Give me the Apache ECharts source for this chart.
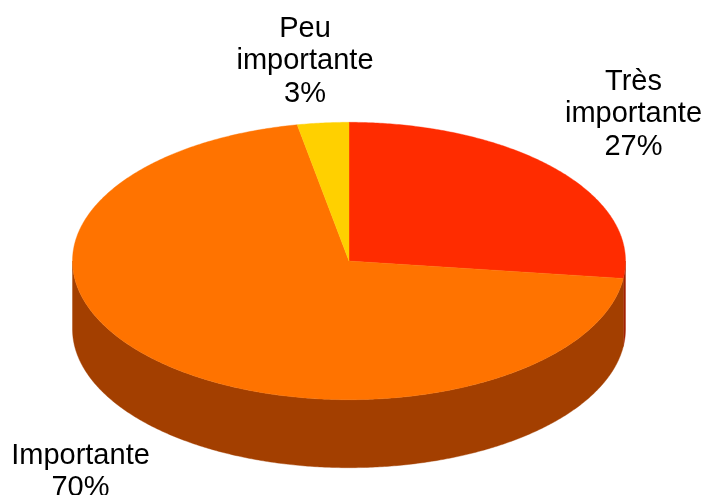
<!DOCTYPE html>
<html>
<head>
<meta charset="utf-8">
<style>html,body{margin:0;padding:0;background:#fff}#c{width:706px;height:495px}</style>
<script src="https://cdn.jsdelivr.net/npm/echarts@6/dist/echarts.min.js"></script>
</head>
<body>
<div id="c"></div>
<script>
var categories = ['Très\nimportante', 'Importante', 'Peu\nimportante'];
var shares = [27, 70, 3];
var topColors = ['#FF2C00', '#FF7300', '#FFD000'];
var sideColors = ['#A32000', '#A33F00', '#A38500'];

var CX = 349, CY = 261, RX = 276.5, RY = 138.7, DEPTH = 68;
var labelCenters = [[633.5, 114], [80.5, 472], [305, 61]];
var FONT = '29px "Liberation Sans", Arial, Helvetica, sans-serif';

var total = shares.reduce(function (a, b) { return a + b; }, 0);
function sliceRange(i) {
  var before = 0;
  for (var k = 0; k < i; k++) before += shares[k];
  return [before / total * 360, (before + shares[i]) / total * 360];
}
function rim(deg, dy) {
  var t = deg * Math.PI / 180;
  return [CX + RX * Math.sin(t), CY - RY * Math.cos(t) + (dy || 0)];
}
function arc(a, b, dy) {
  var pts = [], n = Math.max(2, Math.ceil(Math.abs(b - a) * 2));
  for (var j = 0; j <= n; j++) pts.push(rim(a + (b - a) * j / n, dy));
  return pts;
}
function renderSide(params, api) {
  var r = sliceRange(params.dataIndex);
  var a = Math.max(r[0], 90), b = Math.min(r[1], 270);
  if (b <= a) return { type: 'group', children: [] };
  var col = sideColors[params.dataIndex];
  return {
    type: 'polygon',
    shape: { points: arc(a, b, 0).concat(arc(b, a, DEPTH)) },
    style: { fill: col, stroke: col, lineWidth: 0.4 }
  };
}
function renderTop(params, api) {
  var r = sliceRange(params.dataIndex);
  var col = topColors[params.dataIndex];
  return {
    type: 'polygon',
    shape: { points: [[CX, CY]].concat(arc(r[0], r[1], 0)) },
    style: { fill: col, stroke: col, lineWidth: 0.4 }
  };
}
function renderLabel(params, api) {
  var i = params.dataIndex, p = labelCenters[i];
  return {
    type: 'text',
    x: p[0], y: p[1],
    style: {
      text: categories[i] + '\n' + api.value(0) + '%',
      font: FONT, fill: '#000', align: 'center', verticalAlign: 'middle',
      lineHeight: 32.5
    }
  };
}
var rows = shares.map(function (v, i) { return { name: categories[i], value: v }; });
function layer(fn, z) {
  return { type: 'custom', coordinateSystem: 'none', renderItem: fn, data: rows, silent: true, z: z, animation: false, clip: false };
}
var chart = echarts.init(document.getElementById('c'), null, { renderer: 'canvas' });
chart.setOption({
  animation: false,
  backgroundColor: '#fff',
  series: [layer(renderSide, 1), layer(renderTop, 2), layer(renderLabel, 3)]
});
</script>
</body>
</html>
